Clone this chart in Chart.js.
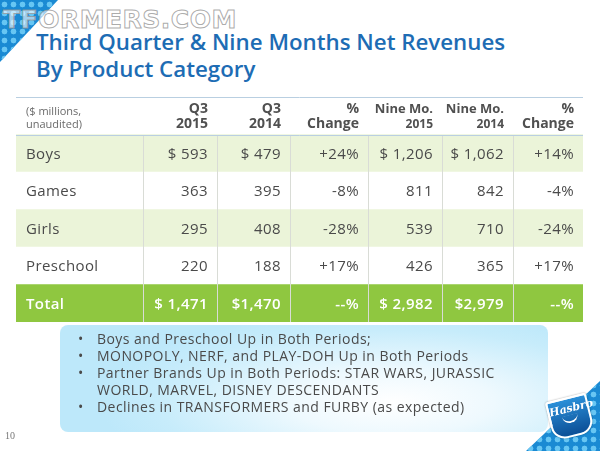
<!DOCTYPE html>
<html>
<head>
<meta charset="utf-8">
<title>Third Quarter &amp; Nine Months Net Revenues By Product Category</title>
<script src="https://cdn.jsdelivr.net/npm/chart.js@4.4.1/dist/chart.umd.min.js"></script>
<style>
html, body { margin: 0; padding: 0; background: #fff; }
#slide { position: relative; width: 600px; height: 451px; overflow: hidden; font-family: "Open Sans", sans-serif; }
#tableChart { position: absolute; left: 0; top: 0; }
.dots { position: absolute; background-color: #1a8ad3; background-image: radial-gradient(circle, #67c6f3 2.6px, transparent 3.2px); background-size: 9px 9px; }
.dots.tl { left: 0; top: 0; width: 58px; height: 62px; clip-path: polygon(0 0, 100% 0, 0 100%); }
.dots.br { right: 0; bottom: 0; width: 74px; height: 70px; clip-path: polygon(100% 0, 100% 100%, 0 100%); }
.watermark { position: absolute; left: 3px; top: 5px; font: bold 25px "DejaVu Sans", sans-serif; letter-spacing: 0.5px; color: rgba(255,255,255,0.6); -webkit-text-stroke: 1px rgba(150,150,150,0.8); }
.title { position: absolute; left: 36px; top: 28px; font-size: 22.3px; line-height: 27px; font-weight: 600; color: #1d6cb4; }
.bullets { position: absolute; left: 60px; top: 325px; width: 488px; height: 107px; border-radius: 8px;
  background: radial-gradient(ellipse 60% 85% at 68% 72%, #ffffff 0%, #eef9fe 35%, #c7ecfb 80%, #bde8fa 100%); }
.bullets ul { margin: 0; padding: 5px 0 0 0; list-style: none; }
.bullets li { position: relative; padding-left: 37px; padding-right: 8px; font-size: 14px; letter-spacing: 0.45px; line-height: 17px; font-weight: 500; color: #4a4a4a; }
.bullets li::before { content: "\2022"; position: absolute; left: 18px; }
.page { position: absolute; left: 5px; top: 430px; font: 10px "Liberation Serif", serif; color: #777; }
.hasbro { position: absolute; left: 549px; top: 397px; width: 38px; height: 36px; transform: rotate(-14deg);
  background: linear-gradient(#2a8fd8, #0c4f96); border: 2px solid #fff; border-radius: 3px 3px 14px 14px;
  color: #fff; font: italic bold 11px "DejaVu Serif", serif; text-align: center; line-height: 20px; box-shadow: 0 0 2px rgba(0,0,0,0.4); }
.hasbro span { display: block; width: 16px; height: 6px; margin: -4px auto 0; border-bottom: 2px solid #fff; border-radius: 0 0 10px 10px; }
</style>
</head>
<body>
<div id="slide">
  <div class="dots tl"></div>
  <div class="watermark">TFORMERS.COM</div>
  <div class="title">Third Quarter &amp; Nine Months Net Revenues<br>By Product Category</div>
  <canvas id="tableChart" width="600" height="451"></canvas>
  <div class="bullets">
    <ul>
      <li>Boys and Preschool Up in Both Periods;</li>
      <li>MONOPOLY, NERF, and PLAY-DOH Up in Both Periods</li>
      <li>Partner Brands Up in Both Periods: STAR WARS, JURASSIC WORLD, MARVEL, DISNEY DESCENDANTS</li>
      <li>Declines in TRANSFORMERS and FURBY (as expected)</li>
    </ul>
  </div>
  <div class="page">10</div>
  <div class="dots br"></div>
  <div class="hasbro">Hasbro<span></span></div>
</div>
<script>
// Datos de la tabla
var categories = ['Boys', 'Games', 'Girls', 'Preschool', 'Total'];
var headerTop = ['($ millions,', 'Q3', 'Q3', '%', 'Nine Mo.', 'Nine Mo.', '%'];
var headerBottom = ['unaudited)', '2015', '2014', 'Change', '2015', '2014', 'Change'];
var q3_2015 = ['$ 593', '363', '295', '220', '$ 1,471'];
var q3_2014 = ['$ 479', '395', '408', '188', '$1,470'];
var q3Change = ['+24%', '-8%', '-28%', '+17%', '--%'];
var nine2015 = ['$ 1,206', '811', '539', '426', '$ 2,982'];
var nine2014 = ['$ 1,062', '842', '710', '365', '$2,979'];
var nineChange = ['+14%', '-4%', '-24%', '+17%', '--%'];

// Anchos de columna (layout)
var colWidths = [127, 74, 73, 78, 74, 71, 70];
var colEdges = [0];
colWidths.forEach(function (w, i) { colEdges.push(colEdges[i] + w); });
var tableWidth = colEdges[colEdges.length - 1];

var rowLabels = [''].concat(categories);
var columns = [categories, q3_2015, q3_2014, q3Change, nine2015, nine2014, nineChange];

var lightGreen = '#ebf4d9';
var totalGreen = '#8fc740';

function rowColor(i) {
    if (i === 0) return '#ffffff';
    if (i === rowLabels.length - 1) return totalGreen;
    return (i % 2 === 1) ? lightGreen : '#ffffff';
}

// Plugin que escribe los textos y las lineas de la tabla
var tableText = {
    id: 'tableText',
    afterDatasetsDraw: function (chart) {
        var ctx = chart.ctx;
        var x = chart.scales.x;
        var y = chart.scales.y;
        var area = chart.chartArea;
        var headBottom = Math.round(y.getPixelForValue(0.5)) + 0.5;

        ctx.save();
        // separadores verticales
        ctx.strokeStyle = '#d9dcd6';
        ctx.lineWidth = 1;
        for (var c = 1; c < colEdges.length - 1; c++) {
            var px = Math.round(x.getPixelForValue(colEdges[c])) + 0.5;
            ctx.beginPath();
            ctx.moveTo(px, headBottom);
            ctx.lineTo(px, area.bottom);
            ctx.stroke();
        }
        // lineas de encabezado
        ctx.strokeStyle = '#b9cfe1';
        ctx.beginPath();
        ctx.moveTo(area.left, area.top + 0.5);
        ctx.lineTo(area.right, area.top + 0.5);
        ctx.moveTo(area.left, headBottom);
        ctx.lineTo(area.right, headBottom);
        ctx.stroke();

        // encabezado
        var hy = y.getPixelForValue(0);
        ctx.textBaseline = 'alphabetic';
        ctx.fillStyle = '#6a6a6a';
        ctx.textAlign = 'left';
        ctx.font = '11px "Open Sans"';
        ctx.fillText(headerTop[0], x.getPixelForValue(0) + 10, hy - 1);
        ctx.fillText(headerBottom[0], x.getPixelForValue(0) + 10, hy + 12);
        ctx.fillStyle = '#505050';
        ctx.textAlign = 'right';
        for (var h = 1; h < headerTop.length; h++) {
            var hx = x.getPixelForValue(colEdges[h + 1]) - 9;
            ctx.font = (h === 4 || h === 5) ? 'bold 13px "Open Sans"' : 'bold 14px "Open Sans"';
            ctx.fillText(headerTop[h], hx, hy - 3);
            ctx.font = (h === 4 || h === 5) ? 'bold 12px "Open Sans"' : 'bold 14px "Open Sans"';
            ctx.fillText(headerBottom[h], hx, hy + 12);
        }

        // filas
        ctx.textBaseline = 'middle';
        ctx.letterSpacing = '0.4px';
        for (var r = 0; r < categories.length; r++) {
            var ry = y.getPixelForValue(r + 1) + 1;
            var isTotal = r === categories.length - 1;
            ctx.fillStyle = isTotal ? '#ffffff' : '#4a4a4a';
            ctx.font = (isTotal ? '600 ' : '') + '15px "Open Sans"';
            for (var k = 0; k < columns.length; k++) {
                if (k === 0) {
                    ctx.textAlign = 'left';
                    ctx.fillText(columns[k][r], x.getPixelForValue(0) + 10, ry);
                } else {
                    ctx.textAlign = 'right';
                    ctx.fillText(columns[k][r], x.getPixelForValue(colEdges[k + 1]) - 9, ry);
                }
            }
        }
        ctx.restore();
    }
};

function drawTable() {
    var canvas = document.getElementById('tableChart').getContext('2d');
    new Chart(canvas, {
        type: 'bar',
        data: {
            labels: rowLabels,
            datasets: [{
                data: rowLabels.map(function () { return [0, tableWidth]; }),
                backgroundColor: rowLabels.map(function (l, i) { return rowColor(i); }),
                borderWidth: 0,
                barPercentage: 1,
                categoryPercentage: 1
            }]
        },
        options: {
            indexAxis: 'y',
            responsive: false,
            animation: false,
            events: [],
            layout: { padding: { left: 16, top: 97, right: 17, bottom: 129 } },
            plugins: { legend: { display: false }, tooltip: { enabled: false } },
            scales: {
                x: { type: 'linear', min: 0, max: tableWidth, display: false },
                y: { type: 'category', display: false, offset: true }
            }
        },
        plugins: [tableText]
    });
}

Promise.all([
    document.fonts.load('15px "Open Sans"'),
    document.fonts.load('600 15px "Open Sans"'),
    document.fonts.load('bold 14px "Open Sans"')
]).then(drawTable, drawTable);
</script>
</body>
</html>
